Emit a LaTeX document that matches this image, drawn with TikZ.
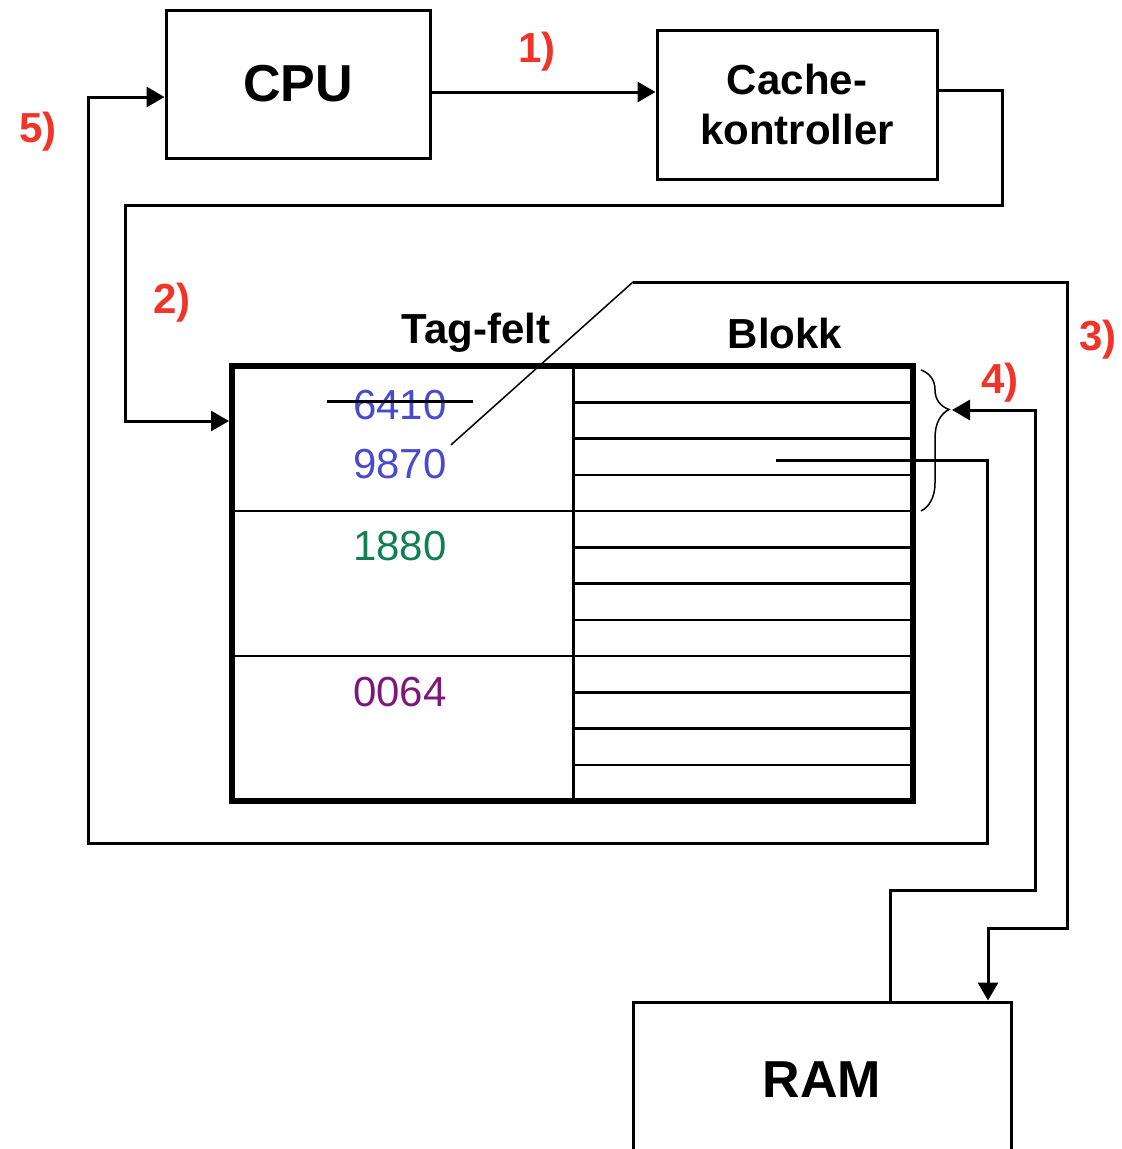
\documentclass[tikz,border=0pt]{standalone}
\usepackage{fontspec}
\setmainfont{Liberation Sans}
\usetikzlibrary{arrows.meta,decorations.pathreplacing}
\definecolor{stepred}{RGB}{240,52,40}
\definecolor{tagblue}{RGB}{72,76,204}
\definecolor{taggreen}{RGB}{16,128,82}
\definecolor{tagpurple}{RGB}{124,24,124}
\begin{document}
\begin{tikzpicture}[x=1pt, y=-1pt,
    box/.style={draw, line width=3pt, inner sep=0pt},
    arr/.style={line width=3pt, -{Triangle[length=18pt,width=20pt]}},
    steplbl/.style={text=stepred, font=\fontsize{42}{50}\selectfont\bfseries},
    hdr/.style={font=\fontsize{42}{50}\selectfont\bfseries},
    tagnum/.style={font=\fontsize{42}{50}\selectfont}]
  \def\rowh{36.25}
  \clip (0,0) rectangle (1122,1149);
  % units
  \node[box, minimum width=264pt, minimum height=148pt,
    font=\fontsize{52}{60}\selectfont\bfseries] (cpu) at (298,84) {CPU};
  \node[box, minimum width=280pt, minimum height=149pt, align=center,
    font=\fontsize{42}{50}\selectfont\bfseries] (ctrl) at (797,104.5)
    {Cache-\\kontroller};
  \node[box, minimum width=378pt, minimum height=156pt,
    font=\fontsize{52}{60}\selectfont\bfseries] (ram) at (822,1080) {RAM};
  % cache table
  \node[draw, line width=6pt, minimum width=681pt, minimum height=435pt,
    inner sep=0pt] (tab) at (572.5,583.5) {};
  \draw[line width=3pt] (573,366) -- (573,801);
  \foreach \y in {511,656}
    \draw[line width=2pt] (232,\y) -- (573,\y);
  \foreach \i in {1,...,11}
    \draw[line width=2.5pt] (573,{366+\i*\rowh}) -- (913,{366+\i*\rowh});
  \node[hdr] (tagh) at (476,333) {Tag-felt};
  \node[hdr] (blokkh) at (785,333) {Blokk};
  \node[tagnum, text=tagblue] (t6410) at (400,405) {6410};
  \draw[line width=3pt] (327,401) -- (473,401);
  \node[tagnum, text=tagblue, inner sep=4pt] (t9870) at (400,464) {9870};
  \node[tagnum, text=taggreen] (t1880) at (400,546) {1880};
  \node[tagnum, text=tagpurple] (t0064) at (400,692) {0064};
  \draw[line width=1.5pt, decorate,
    decoration={brace, amplitude=28pt, aspect=0.28}] (921,370) -- (921,511);
  % steps
  \coordinate (c2) at (125,421);
  \coordinate (r3) at (988,928);
  \coordinate (r4) at (890,890);
  \coordinate (b4) at (952,410);
  \coordinate (c5) at (88,97);
  \draw[arr] ([yshift=-8pt]cpu.east) -- ([yshift=-8pt]cpu.east -| ctrl.west);
  \draw[arr] ([yshift=14.5pt]ctrl.east) -| (1002,205) -| (c2) -- (c2 -| tab.west);
  \draw[line width=1.5pt] (t9870.north east) -- (633,282);
  \draw[arr] (633,282) -| (1067,928) -- (r3) -- (r3 |- ram.north);
  \draw[arr] (r4 |- ram.north) -- (r4) -| (1035,410) -- (b4);
  \draw[arr] (776,460) -| (987,843) -| (c5) -- (c5 -| cpu.west);
  \node[steplbl] (l1) at (537,52) {1)};
  \node[steplbl] (l2) at (172,303) {2)};
  \node[steplbl] (l3) at (1098,340) {3)};
  \node[steplbl] (l4) at (1000,383) {4)};
  \node[steplbl] (l5) at (38,132) {5)};
\end{tikzpicture}
\end{document}
